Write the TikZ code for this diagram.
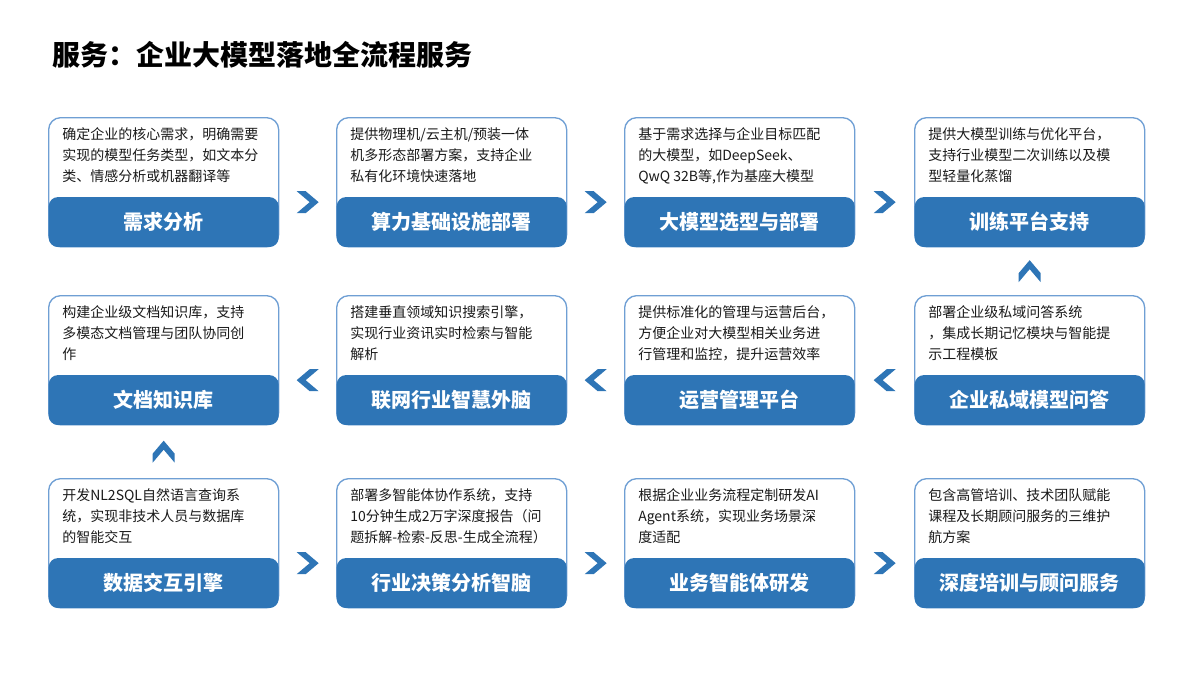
\documentclass[tikz,border=0pt]{standalone}
\usepackage{fontspec}
\setmainfont{Noto Sans CJK SC}
\usetikzlibrary{positioning}

\definecolor{bandblue}{HTML}{2E75B6}
\definecolor{lineblue}{HTML}{6F9FD4}
\definecolor{bodytext}{HTML}{1A1A1A}

\tikzset{
  card/.style={draw=lineblue, line width=1pt, rounded corners=9pt, fill=white,
    minimum width=172.5pt, minimum height=96.75pt, inner sep=0pt, anchor=north west},
  band/.style={fill=bandblue, rounded corners=7pt, minimum width=172.5pt,
    minimum height=37.5pt, inner sep=0pt, anchor=south,
    text=white, font=\fontsize{15}{18}\selectfont\bfseries},
  bodytxt/.style={anchor=north west, inner sep=0pt, align=left, text=bodytext,
    font=\fontsize{10.5}{15.6}\selectfont},
  chev/.pic={\fill[bandblue] (-11,-11) -- (-2,-11) -- (11,0) -- (-2,11) -- (-11,11) -- (2,0) -- cycle;}
}

% one card: name, x, y, body, label
\newcommand{\stepcard}[5]{
  \node[card] (#1) at (#2,#3) {};
  \node[band] (#1b) at (#1.south) {#5};
  \node[bodytxt] (#1t) at ([xshift=10.5pt,yshift=-8pt]#1.north west) {#4};
}

\begin{document}
\begin{tikzpicture}[x=0.75pt, y=-0.75pt]
  \useasboundingbox (0,0) rectangle (1200,675);

  \node[anchor=west, inner sep=0pt, font=\fontsize{21}{24}\selectfont\bfseries] (title) at (52,55)
    {服务：企业大模型落地全流程服务};

  % row 1
  \stepcard{c1}{48}{117}{确定企业的核心需求，明确需要\\实现的模型任务类型，如文本分\\类、情感分析或机器翻译等}{需求分析}
  \stepcard{c2}{336}{117}{提供物理机/云主机/预装一体\\机多形态部署方案，支持企业\\私有化环境快速落地}{算力基础设施部署}
  \stepcard{c3}{624}{117}{基于需求选择与企业目标匹配\\的大模型，如DeepSeek、\\QwQ 32B等,作为基座大模型}{大模型选型与部署}
  \stepcard{c4}{914}{117}{提供大模型训练与优化平台，\\支持行业模型二次训练以及模\\型轻量化蒸馏}{训练平台支持}

  % row 2
  \stepcard{c5}{48}{295}{构建企业级文档知识库，支持\\多模态文档管理与团队协同创\\作}{文档知识库}
  \stepcard{c6}{336}{295}{搭建垂直领域知识搜索引擎，\\实现行业资讯实时检索与智能\\解析}{联网行业智慧外脑}
  \stepcard{c7}{624}{295}{提供标准化的管理与运营后台，\\方便企业对大模型相关业务进\\行管理和监控，提升运营效率}{运营管理平台}
  \stepcard{c8}{914}{295}{部署企业级私域问答系统\\，集成长期记忆模块与智能提\\示工程模板}{企业私域模型问答}

  % row 3
  \stepcard{c9}{48}{478}{开发NL2SQL自然语言查询系\\统，实现非技术人员与数据库\\的智能交互}{数据交互引擎}
  \stepcard{c10}{336}{478}{部署多智能体协作系统，支持\\10分钟生成2万字深度报告（问\\题拆解-检索-反思-生成全流程）}{行业决策分析智脑}
  \stepcard{c11}{624}{478}{根据企业业务流程定制研发AI\\Agent系统，实现业务场景深\\度适配}{业务智能体研发}
  \stepcard{c12}{914}{478}{包含高管培训、技术团队赋能\\课程及长期顾问服务的三维护\\航方案}{深度培训与顾问服务}

  % chevrons
  \path (c1.east) -- (c2.west) pic[pos=0.5, yshift=-15pt] {chev};
  \path (c2.east) -- (c3.west) pic[pos=0.5, yshift=-15pt] {chev};
  \path (c3.east) -- (c4.west) pic[pos=0.5, yshift=-15pt] {chev};
  \path (c4.south) -- (c8.north) pic[pos=0.5, rotate=90] {chev};
  \path (c8.west) -- (c7.east) pic[pos=0.5, yshift=-15pt, rotate=180] {chev};
  \path (c7.west) -- (c6.east) pic[pos=0.5, yshift=-15pt, rotate=180] {chev};
  \path (c6.west) -- (c5.east) pic[pos=0.5, yshift=-15pt, rotate=180] {chev};
  \path (c5.south) -- (c9.north) pic[pos=0.5, rotate=90] {chev};
  \path (c9.east) -- (c10.west) pic[pos=0.5, yshift=-15pt] {chev};
  \path (c10.east) -- (c11.west) pic[pos=0.5, yshift=-15pt] {chev};
  \path (c11.east) -- (c12.west) pic[pos=0.5, yshift=-15pt] {chev};
\end{tikzpicture}
\end{document}
